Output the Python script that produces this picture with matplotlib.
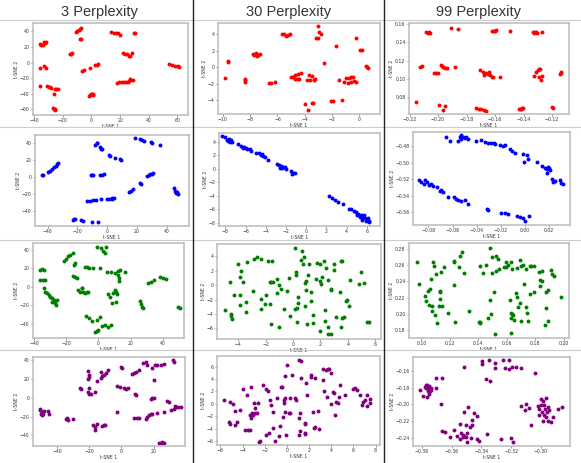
import numpy as np
import matplotlib
matplotlib.use("Agg")
import matplotlib.pyplot as plt
from matplotlib.ticker import MultipleLocator, FuncFormatter

col_titles = ["3 Perplexity", "30 Perplexity", "99 Perplexity"]
row_colors = ["red", "blue", "green", "purple"]

# ---- row 1 (red) ----
red_p3 = [(-10.5, 39), (-9.8, 40.5), (-9.0, 42), (-8.3, 43.5), (-7.6, 45),
          (-8, 30), (-7.4, 30.3), (-15, 11.5), (-14, 11), (-13.4, 11.8),
          (-36, 24), (-35, 23), (-34, 22.5), (-33, 26), (-32, 27), (-32.4, 25.5),
          (-35.8, -7), (-33, -4.7), (-32, -6.5), (-36.3, -30.3),
          (-31, -30), (-30, -31), (-29, -32), (-28, -33),
          (-25.8, -34), (-24.5, -34), (-23.2, -34), (-26.5, -40.6),
          (-27, -59), (-26.3, -60), (-25.3, -61), (-25.5, -59.5),
          (-6.3, -11), (-5.2, -10), (-1.2, -6.4), (2.8, -3.4), (3.6, -2.8), (4.4, -2.1),
          (-2, -43), (-1.2, -41.5), (-0.3, -41), (0.6, -40.2), (1.4, -40.5), (1.3, -41.5),
          (13.7, 39), (15.8, 38.5), (17.4, 38.2), (18.8, 38), (19.8, 35.5),
          (29.5, 37.6), (30.1, 38),
          (21.9, 12.8), (23.5, 11.5), (25, 10.5), (26.5, 9), (27.2, 8.5), (28.1, 12.8),
          (17.7, -26), (19.5, -25.5), (21, -25), (22.5, -24.8), (24, -24.5), (25.5, -24.5),
          (27, -23), (28.8, -22), (27, -21.8), (26, -24),
          (54.4, -2), (56.5, -3), (58.5, -4), (60.3, -4.8), (61.4, -5.6)]

red_p30 = [(-3.04, 4.98), (-2.99, 4.3), (-2.8, 4.0), (-3.2, 3.6), (-3.05, 3.55),
           (-5.7, 4.0), (-5.5, 4.1), (-5.4, 3.85), (-5.25, 3.9), (-5.1, 4.05),
           (-1.72, 2.57), (-0.29, 3.55), (0.05, 2.1), (0.15, 2.08),
           (0.45, 0.15), (0.53, 0.0), (0.6, -0.1), (-2.59, 0.57),
           (-7.8, 1.6), (-7.6, 1.7), (-7.45, 1.5), (-7.3, 1.65), (-7.5, 1.4), (-7.7, 1.45),
           (-9.63, 0.65), (-9.6, 0.75), (-9.84, -1.27),
           (-8.4, -1.55), (-8.35, -1.75), (-8.38, -1.4),
           (-6.63, -1.96), (-6.5, -1.93), (-6.16, -1.84),
           (-4.9, -1.14), (-4.7, -0.95), (-4.5, -0.8), (-4.31, -0.65), (-4.72, -1.39),
           (-4.55, -1.4), (-4.43, -1.43), (-5.0, -1.2),
           (-3.7, -1.0), (-3.5, -1.1), (-3.28, -1.39), (-3.83, -1.55), (-3.6, -1.55), (-3.35, -1.55),
           (-1.49, -1.55), (-1.13, -1.8),
           (-0.96, -1.35), (-0.8, -1.3), (-0.6, -1.25), (-0.48, -1.22), (-0.84, -1.88),
           (-0.6, -1.85), (-0.4, -1.7), (-0.22, -1.76),
           (-3.98, -4.53), (-3.5, -4.4), (-3.4, -4.4), (-3.76, -5.27),
           (-2.08, -4.08), (-1.92, -4.08), (-1.27, -4.0)]

red_p99 = [(-0.2082, 0.1515), (-0.2070, 0.1508), (-0.2058, 0.1504), (-0.2062, 0.1512),
           (-0.1906, 0.1563), (-0.1860, 0.1552),
           (-0.1619, 0.1526), (-0.1605, 0.1530), (-0.1590, 0.1533), (-0.1600, 0.1524),
           (-0.1497, 0.1522),
           (-0.1333, 0.1515), (-0.1320, 0.1510), (-0.1310, 0.1520), (-0.1305, 0.1504), (-0.1325, 0.1505),
           (-0.1270, 0.1511),
           (-0.2124, 0.1132), (-0.2110, 0.1139),
           (-0.2030, 0.1062), (-0.2015, 0.1060), (-0.2000, 0.1062),
           (-0.1981, 0.1150), (-0.1975, 0.1140), (-0.1965, 0.1132), (-0.1953, 0.1124), (-0.1934, 0.1124),
           (-0.1883, 0.1132),
           (-0.1708, 0.1095), (-0.1685, 0.1077), (-0.1667, 0.1066), (-0.1650, 0.1051), (-0.1640, 0.1077),
           (-0.1636, 0.1040), (-0.1680, 0.1040), (-0.1620, 0.1022), (-0.1615, 0.1015),
           (-0.1567, 0.1015),
           (-0.1310, 0.1077), (-0.1300, 0.1095), (-0.1290, 0.1105), (-0.1282, 0.1110), (-0.1329, 0.1029),
           (-0.1291, 0.1015), (-0.1275, 0.0985), (-0.1268, 0.1029),
           (-0.1146, 0.1058), (-0.1140, 0.1065), (-0.1135, 0.1077),
           (-0.2152, 0.0748), (-0.1993, 0.0715), (-0.1965, 0.0657), (-0.1949, 0.0700),
           (-0.1736, 0.0675), (-0.1715, 0.0672), (-0.1700, 0.0668), (-0.1680, 0.0655), (-0.1665, 0.0650),
           (-0.1432, 0.0664), (-0.1420, 0.0672), (-0.1410, 0.0680), (-0.1404, 0.0682), (-0.1415, 0.0668),
           (-0.1198, 0.0686), (-0.1192, 0.0680)]

# ---- row 2 (blue) ----
blue_p3 = [(-43.5, 2.3), (-42.8, 2.6), (-40, 6), (-38.5, 8), (-37, 9.5), (-35.5, 12),
           (-34.5, 14), (-33.5, 15.5), (-33, 16.5),
           (-8, 38.5), (-7, 40), (-6.6, 40.4), (-4.8, 35.5), (-3.8, 34), (-3.3, 33),
           (1.1, 26.9), (2.2, 25), (5.5, 23), (8.8, 21.2), (9.5, 20.8),
           (18.7, 46.5), (22, 45.4), (23.5, 44.5), (24.6, 43.5), (29.7, 41.5), (30, 40.8), (35.2, 38.5),
           (-11, 3.1), (-10.2, 2.6), (-9.5, 2.3), (-5, 2.7), (-3.6, 3.1), (-2.2, 3.5),
           (-13.2, -27.7), (-11.5, -27.5), (-9.5, -27.2), (-7.7, -26.9), (-4.4, -25.8),
           (0, -25), (1.5, -25), (3, -24.5), (4.4, -23.8), (3.5, -26),
           (14.7, -16.9), (16, -15.5), (17.6, -13.1), (22, -6.5), (22.5, -7.2),
           (27, 1.9), (28, 2.5), (29, 3.5), (30, 4.2), (30.8, 5),
           (44.6, -12.3), (45.4, -15.5), (46, -17), (46.2, -18.1), (47.3, -20), (46.8, -17.5),
           (-23.1, -50), (-22, -49.5), (-21.3, -48.8), (-16.5, -51.2), (-17.5, -50.5),
           (-9.9, -52.7), (-5.9, -52.7)]

blue_p30 = [(-8.3, 4.85), (-8.0, 4.65), (-7.8, 4.3), (-7.6, 4.4), (-7.4, 4.2), (-7.7, 4.05),
            (-7.3, 3.95), (-7.5, 3.9),
            (-6.7, 3.6), (-6.5, 3.3), (-6.2, 3.25), (-6.0, 3.1), (-5.9, 2.85), (-5.6, 2.9),
            (-5.5, 2.6), (-6.3, 3.0),
            (-5.0, 2.35), (-4.7, 2.3), (-4.5, 1.95), (-4.3, 1.9), (-4.1, 1.7), (-4.4, 2.2), (-3.8, 1.35),
            (-2.9, 0.75), (-2.7, 0.5), (-2.5, 0.45), (-2.3, 0.2), (-2.4, 0.05), (-2.1, 0.3),
            (-2.0, 0.0), (-2.6, 0.15),
            (-1.5, -0.35), (-1.3, -0.6), (-1.15, -0.7), (-1.4, -0.75),
            (2.3, -4.05), (2.6, -4.3), (2.9, -4.6), (3.2, -4.85), (3.6, -5.25), (4.2, -5.9),
            (4.4, -6.0), (4.7, -6.3), (4.9, -6.45), (5.1, -6.7), (5.4, -6.9), (5.6, -7.2),
            (5.8, -7.3), (6.0, -7.55), (6.2, -7.75), (5.3, -7.05), (5.7, -6.9), (6.1, -7.3),
            (5.0, -6.9), (5.5, -7.5), (6.25, -7.85), (5.9, -7.7)]

blue_p99 = [(-0.0657, -0.4691), (-0.0623, -0.4731), (-0.0554, -0.4739), (-0.0540, -0.4687),
            (-0.0526, -0.4667), (-0.0512, -0.4687), (-0.0499, -0.4699), (-0.0485, -0.4687),
            (-0.0471, -0.4707), (-0.0530, -0.4710),
            (-0.0407, -0.4739), (-0.0360, -0.4727), (-0.0335, -0.4745), (-0.0310, -0.4755),
            (-0.0285, -0.4760), (-0.0260, -0.4758), (-0.0249, -0.4770),
            (-0.0208, -0.4780), (-0.0166, -0.4788), (-0.0185, -0.4795),
            (-0.0125, -0.4828), (-0.0105, -0.4853), (-0.0083, -0.4877),
            (-0.0014, -0.4897), (0.0014, -0.4901), (0.0028, -0.4950), (-0.0008, -0.4990),
            (0.0102, -0.4990), (0.0139, -0.5042), (0.0166, -0.5063), (0.0180, -0.5071),
            (0.0194, -0.5050), (0.0208, -0.5091), (0.0186, -0.5119), (0.0200, -0.5065),
            (0.0222, -0.5200), (0.0235, -0.5232), (0.0249, -0.5224), (0.0291, -0.5212),
            (0.0313, -0.5265), (0.0300, -0.5250),
            (-0.0878, -0.5208), (-0.0859, -0.5232), (-0.0839, -0.5253), (-0.0831, -0.5212),
            (-0.0812, -0.5232), (-0.0795, -0.5273), (-0.0776, -0.5265), (-0.0760, -0.5285),
            (-0.0730, -0.5293), (-0.0693, -0.5333), (-0.0680, -0.5362), (-0.0700, -0.5345),
            (-0.0637, -0.5418), (-0.0590, -0.5414), (-0.0573, -0.5442), (-0.0554, -0.5459),
            (-0.0526, -0.5467), (-0.0499, -0.5459), (-0.0471, -0.5499),
            (-0.0313, -0.5568), (-0.0305, -0.5570),
            (-0.0202, -0.5616), (-0.0169, -0.5616), (-0.0139, -0.5628),
            (-0.0064, -0.5649), (-0.0042, -0.5657), (-0.0019, -0.5677), (0.0000, -0.5709),
            (0.0036, -0.5644)]

# ---- row 3 (green) ----
green_p3 = [(-36.1, 18.2), (-34, 18.5), (-35, 18.9), (-36.1, 7.3), (-33.4, 6.9), (-34.6, 7.3),
            (-34, -1.8), (-33, -5.5), (-32, -7.3), (-30.9, -9.1), (-29.9, -10.9), (-28.9, -12.7),
            (-27.8, -14.5), (-28.5, -16.4), (-26.8, -18.2), (-26.2, -20), (-25.8, -14.5),
            (-21.6, 28), (-20.2, 30.2), (-18.6, 32.7), (-17.5, 34.5), (-15.5, 36.4),
            (-14.4, 25.5), (-15.1, 23.6), (-15.5, 11.6), (-14.4, 10.2), (-13.4, 9.1),
            (-12.4, -3.6), (-10.3, -1.1), (-9.3, -5.5), (-8.2, -7.3), (-7.2, -6.2), (-6.2, -6.2),
            (-11.3, -6.2), (-9.9, -1.8),
            (-8.2, 21.8), (-6.8, 21.1), (-5.6, 20.7), (-3.1, 20), (1, 20),
            (-1, 42.9), (1.6, 41.8), (3.1, 38.9), (4.7, 42.5), (4.1, 36.4),
            (5.6, 16.4), (7.8, 15.6), (10.3, 14.5), (12.4, 17.1), (13.4, 18.2), (16.5, 15.6),
            (12.4, 12.7), (13, 9.1), (12.6, 6.2),
            (10.3, -3.6), (10.9, -6.2), (11.8, -8.4), (6.2, -8.4), (7.2, -10.9), (9.3, -7.3),
            (8.2, -18.2), (10.9, -17.1),
            (25.8, -15.6), (26.6, -19.3), (27.4, -21.8), (27.8, -23.6),
            (30.9, 3.6), (33, 5.5), (34.6, 7.3), (38.1, 10.9), (40.2, 9.8), (42.3, 8.4),
            (49.5, -21.8), (50.9, -22.9),
            (-7.6, -31.6), (-6, -33.8), (-4.1, -37.5), (-1, -35.6), (1, -33.1),
            (-2.1, -49.1), (-1, -48), (0, -47.3), (2.1, -42.5), (4.1, -41.8), (6.2, -43.6), (7.8, -41.8)]

green_p30 = [(0.14, 5.16), (0.62, 4.70), (0.79, 3.95), (0.58, 3.49), (0.74, 2.93), (1.20, 2.98),
             (1.73, 3.07), (1.94, 2.88), (2.23, 3.30), (2.42, 2.37), (3.02, 2.88), (2.97, 2.14),
             (3.50, 3.35), (3.58, 3.35), (4.99, 1.81), (5.18, 0.33), (4.82, 0.14), (4.15, 0.74),
             (2.54, 0.65), (2.11, 1.07), (1.94, 0.60), (1.68, 0.84), (1.06, 1.44), (0.94, 0.60),
             (0.86, 0.28), (0.19, 1.77), (0.19, 1.44), (-0.29, 0.98), (-1.20, 0.84), (-1.44, 0.42),
             (-1.58, 0.47), (-1.68, 0.47), (-1.06, 0.00), (-0.86, -0.47), (-1.20, -1.07),
             (-0.46, -0.84), (0.34, -1.67), (0.34, -2.42), (0.94, -0.74), (1.34, -0.93),
             (2.06, 0.14), (1.29, -2.19), (0.14, -3.30), (0.29, -3.12), (0.86, -2.84),
             (-0.19, -4.23), (-0.67, -3.30), (1.49, -4.19), (2.37, -3.40), (2.37, -4.93),
             (3.12, -4.47), (3.55, -4.56), (3.69, -4.47), (3.45, -0.93), (3.98, -2.09),
             (3.88, -2.14), (4.08, -2.93), (2.81, -0.56), (2.78, -0.74), (3.48, -5.81),
             (2.52, -5.86), (1.94, -6.33), (1.01, -5.35), (1.46, -5.26), (0.29, -5.07),
             (-1.01, -5.86), (-1.58, -5.40), (-2.33, -3.26), (-2.06, -2.60), (-1.97, -1.35),
             (-2.37, -1.91), (-1.68, -2.56), (-2.93, -0.84), (-3.45, -2.37), (-3.45, -3.67),
             (-3.91, -2.79), (-3.91, -1.35), (-4.32, -1.44), (-4.58, 0.37), (-3.69, 0.47),
             (-3.88, 1.12), (-3.84, 1.95), (-4.00, 2.88), (-3.36, 3.16), (-2.85, 3.58),
             (-2.64, 3.91), (-2.33, 3.58), (-1.80, 3.30), (-1.53, 3.35), (-4.99, -3.44),
             (-4.56, -4.05), (-4.56, -4.23), (-4.46, -4.74), (2.59, -6.74), (2.78, -6.74),
             (5.42, -5.16), (5.52, -5.16)]

green_p99 = [(0.097, 0.264), (0.098, 0.237), (0.108, 0.264), (0.109, 0.259), (0.1105, 0.249),
             (0.114, 0.252), (0.1157, 0.258), (0.107, 0.243), (0.106, 0.231), (0.1047, 0.2287),
             (0.1028, 0.2225), (0.1035, 0.2156), (0.1054, 0.2115), (0.1075, 0.2102),
             (0.1077, 0.2041), (0.1096, 0.1992), (0.1129, 0.2287), (0.1129, 0.227),
             (0.1129, 0.2184), (0.1124, 0.2094), (0.1145, 0.2102), (0.111, 0.1889),
             (0.1187, 0.2012), (0.1227, 0.2635), (0.1232, 0.2656), (0.1262, 0.2578),
             (0.1274, 0.2709), (0.1286, 0.2762), (0.1297, 0.2504), (0.1232, 0.2352),
             (0.1239, 0.1902), (0.1333, 0.2037), (0.1405, 0.1898), (0.141, 0.1889),
             (0.1415, 0.1906), (0.1466, 0.1951), (0.149, 0.20), (0.148, 0.2172),
             (0.1508, 0.227), (0.1515, 0.1754), (0.141, 0.2586), (0.1433, 0.2504),
             (0.1457, 0.2598), (0.1494, 0.2504), (0.148, 0.2811), (0.1494, 0.2697),
             (0.1527, 0.2709), (0.1539, 0.2676), (0.1522, 0.2533), (0.1546, 0.2553),
             (0.1581, 0.2578), (0.1597, 0.2578), (0.1597, 0.2635), (0.1609, 0.2607),
             (0.1628, 0.2639), (0.1639, 0.2557), (0.1674, 0.2566), (0.1691, 0.2668),
             (0.1703, 0.2586), (0.1714, 0.2607), (0.1738, 0.2549), (0.1761, 0.2586),
             (0.1773, 0.2594), (0.1789, 0.2594), (0.1827, 0.2516), (0.1845, 0.2533),
             (0.1831, 0.2418), (0.185, 0.2402), (0.1831, 0.234), (0.1719, 0.2373),
             (0.1667, 0.2258), (0.1672, 0.2205), (0.1625, 0.2168), (0.1696, 0.2135),
             (0.1679, 0.2082), (0.1738, 0.2082), (0.1742, 0.2016), (0.1632, 0.2012),
             (0.1639, 0.2004), (0.1644, 0.1992), (0.1632, 0.1951), (0.1651, 0.193),
             (0.1703, 0.191), (0.1749, 0.191), (0.1628, 0.1766), (0.1761, 0.2246),
             (0.1789, 0.227), (0.1874, 0.227), (0.189, 0.2291), (0.1878, 0.2074),
             (0.1909, 0.2537), (0.192, 0.2492), (0.1932, 0.2463), (0.1984, 0.2209),
             (0.1867, 0.1869), (0.189, 0.1918)]

# ---- row 4 (purple) ----
purple_p3 = [(-50.8, -13.2), (-50.2, -16.7), (-49.3, -14.9), (-48.3, -13.9), (-49.7, -18.5),
             (-45.6, -13.5), (-45.1, -17.4), (-48.7, -16.7), (-50.4, -11.4),
             (-34.7, -22), (-33, -23.8), (-30.3, -22.4), (-34.1, -21.3),
             (-25.7, 11), (-25.1, 9.2),
             (-21.1, 28.4), (-20.3, 24.2), (-21.1, 20.6), (-19.9, 22.4),
             (-19.9, 10.7), (-20.5, 6.4), (-19, 4.6), (-19.9, 4.6), (-16.3, 6.4),
             (-15.3, 17.8), (-12.7, 21.3), (-11.1, 24.2), (-9.4, 26.7), (-8.6, 29.5),
             (-12.7, 27.8), (-12.1, 23.5),
             (-2.7, 12.8), (-1.0, 11.4), (-0.2, 33.1), (0.4, 32.5),
             (1.5, 10.7), (3.1, 10.0), (4.2, 10.7),
             (6.7, 26), (8.8, 27.7), (10.9, 29.5), (7.7, 26.5),
             (8.2, 4.6), (9.0, 3.6), (-2.7, -14.9),
             (-17.8, -29.2), (-16.3, -30.9), (-15.3, -27.4), (-16.7, -33.8), (-12.1, -29.9),
             (-11.1, -29.2), (-10, -28.4),
             (7.7, -21.3), (9.8, -21.3), (10.9, -21.3),
             (13.6, 37.3), (15, 38.4), (16.1, 34.8), (19.2, 32.4), (20.7, 35.6), (22.4, 35.6),
             (24.5, 35.6), (26.5, 35.9), (20.3, 19.6), (31.8, 40.2), (32.8, 38.4),
             (16.1, -20.3), (17.1, -18.5), (18.2, -17.4), (19.2, -16.7), (15.5, -22.8),
             (22.4, -15.6), (26.5, -14.9), (18.2, -0.7), (19.2, 0), (20.3, 0),
             (28.6, -3.2), (29.7, -4.3),
             (31.1, -13.2), (32.4, -11.4), (33.9, -9.6), (34.9, -10), (37, -9.6), (33.4, -8.5),
             (25.5, -46.9), (26.5, -47.6), (24.5, -48), (23.4, -47.6)]

purple_p30 = [(-5.64, 0.54), (-5.1, 0.32), (-4.89, -0.05), (-4.65, -1.18), (-4.2, -1.07),
              (-5.25, -2.95), (-5.16, -3.22), (-4.65, -3.43), (-4.5, -2.9), (-3.96, 2.36),
              (-3.6, 1.5), (-3.21, 2.73), (-3.75, -4.29), (-3.54, -4.29), (-3.36, -4.24),
              (-3.36, -1.82), (-3.18, -1.55), (-3.06, -1.88), (-2.91, -1.45), (-3.24, -2.31),
              (-2.85, -0.75), (-2.94, 0.16), (-2.61, 0.11), (-2.7, -1.45), (-2.16, 3.11),
              (-1.86, 2.47), (-1.71, 2.04), (-1.56, 0.59), (-1.44, -0.21), (-1.26, -1.29),
              (-1.29, -3.97), (-1.59, -4.72), (-1.86, -5.04), (-2.49, -6.11), (-2.4, -5.95),
              (-1.05, -6.0), (-0.75, -5.2), (-0.66, -3.59), (-0.9, 0.97), (-0.54, 2.68),
              (-0.42, 2.73), (-0.21, 0.86), (-0.24, 0.59), (-0.15, 4.56), (0.0, 6.33),
              (0.45, 4.72), (0.3, 0.86), (-0.24, 0.16), (-0.15, -1.29), (0.15, -1.45),
              (0.3, -1.55), (-0.36, -2.2), (-0.06, -5.09), (0.69, 0.86), (0.81, 0.59),
              (1.05, -5.04), (1.2, -4.4), (1.14, -2.36), (1.2, -1.55), (1.26, 4.24),
              (1.14, 7.02), (1.29, 6.92), (1.74, 3.43), (1.65, -3.06), (1.68, -3.32),
              (1.68, -4.77), (1.65, -4.93), (1.86, 1.39), (2.19, 4.61), (2.19, 4.29),
              (2.34, -1.29), (2.49, -3.86), (2.58, -3.7), (2.58, 4.24), (2.82, -1.18),
              (2.88, -4.13), (3.24, 3.81), (3.3, 5.68), (3.54, 5.52), (3.69, 5.68),
              (3.78, 5.68), (3.36, 2.09), (3.6, 1.13), (3.96, 4.99), (3.96, -0.05),
              (4.14, 1.93), (4.26, 1.77), (4.44, 0.32), (4.59, 0.11), (4.38, -1.82),
              (4.74, 1.13), (4.8, 3.0), (5.25, 1.5), (5.94, 2.47), (6.15, 2.63),
              (6.36, 2.31), (6.6, 1.39), (6.75, -0.27), (6.9, 0.32), (7.05, 0.59),
              (7.2, 1.39), (7.26, -0.38), (7.5, 0.7), (7.5, 0.21)]

purple_p99 = [(-0.3816, -0.1824), (-0.3793, -0.19), (-0.3775, -0.1772), (-0.3764, -0.1764),
              (-0.3753, -0.178), (-0.3771, -0.1804), (-0.3755, -0.1812), (-0.3742, -0.1804),
              (-0.3782, -0.1792), (-0.376, -0.1844), (-0.3744, -0.184), (-0.3764, -0.1912),
              (-0.3755, -0.188), (-0.3737, -0.1832), (-0.3708, -0.1804),
              (-0.3704, -0.1684), (-0.3666, -0.1684), (-0.367, -0.1992),
              (-0.3518, -0.1548), (-0.3398, -0.1484), (-0.3398, -0.1512), (-0.3351, -0.1472),
              (-0.3306, -0.15), (-0.3306, -0.1564), (-0.3257, -0.1472), (-0.3217, -0.1472),
              (-0.3244, -0.156), (-0.3212, -0.158), (-0.3197, -0.1552), (-0.3168, -0.1556),
              (-0.3134, -0.156), (-0.3369, -0.1692), (-0.3342, -0.1724), (-0.3038, -0.162),
              (-0.3514, -0.2092), (-0.3492, -0.2032), (-0.3447, -0.21), (-0.3431, -0.214),
              (-0.3463, -0.2192), (-0.3463, -0.2252), (-0.348, -0.2272), (-0.3503, -0.2252),
              (-0.3547, -0.224), (-0.3536, -0.234), (-0.3525, -0.2392), (-0.3525, -0.2372),
              (-0.3585, -0.2304), (-0.361, -0.2392), (-0.3565, -0.238), (-0.3498, -0.2344),
              (-0.3514, -0.238), (-0.3507, -0.2392), (-0.3543, -0.242), (-0.3498, -0.2452),
              (-0.3469, -0.2404), (-0.3429, -0.2412), (-0.3418, -0.2444), (-0.3364, -0.236),
              (-0.3664, -0.2324), (-0.3648, -0.2332), (-0.3268, -0.242), (-0.3201, -0.2404),
              (-0.319, -0.2452), (-0.3067, -0.2244),
              (-0.3134, -0.2024), (-0.3101, -0.1992), (-0.3105, -0.2072), (-0.3083, -0.2044),
              (-0.3022, -0.2024), (-0.3011, -0.2052), (-0.3016, -0.2124), (-0.3, -0.194),
              (-0.2989, -0.1964), (-0.2978, -0.2012), (-0.2966, -0.1924), (-0.2971, -0.206),
              (-0.296, -0.2092), (-0.2951, -0.2032), (-0.2944, -0.2072), (-0.2993, -0.2092),
              (-0.2982, -0.2132), (-0.2966, -0.2152), (-0.2955, -0.2204), (-0.2984, -0.2204),
              (-0.2933, -0.2212), (-0.2922, -0.2152), (-0.3, -0.2012),
              (-0.2888, -0.2052), (-0.2859, -0.2032)]

panel_data = [[red_p3, red_p30, red_p99],
              [blue_p3, blue_p30, blue_p99],
              [green_p3, green_p30, green_p99],
              [purple_p3, purple_p30, purple_p99]]

# axis ranges per panel
x_ranges = [[(-40.9, 67.5), (-10.35, 1.5), (-0.2204, -0.1081)],
            [(-48.4, 54.9), (-8.63, 7.31), (-0.0928, 0.0374)],
            [(-40.6, 53.2), (-5.56, 6.43), (0.0913, 0.2037)],
            [(-55.0, 39.5), (-6.3, 8.4), (-0.386, -0.2805)]]
y_ranges = [[(-67.5, 50.9), (-5.71, 5.39), (0.0613, 0.1614)],
            [(-57.3, 50.0), (-8.45, 5.26), (-0.5758, -0.4626)],
            [(-55.6, 47.3), (-7.49, 5.72), (0.1705, 0.2873)],
            [(-51.2, 43.7), (-6.65, 7.72), (-0.25, -0.1432)]]
tick_steps = [20, 2, 0.02]

W, H = 581, 463
# axes boxes in pixels: (left, right, top, bottom)
boxes = [[(33, 188, 23, 115), (218, 380, 23, 114), (409, 569, 23, 114)],
         [(35, 189, 135, 226), (219, 380, 133, 226), (413, 570, 132, 225)],
         [(33, 184, 243, 338), (217, 381, 244, 339), (409, 569, 243, 338)],
         [(33, 185, 357, 446), (217, 380, 356, 445), (413, 570, 357, 446)]]


def tick_fmt(decimals):
    # format with a real minus sign like the default matplotlib ticks
    return FuncFormatter(lambda v, pos: f"{v:.{decimals}f}".replace("-", "\u2212"))


fig = plt.figure(figsize=(W / 100, H / 100), dpi=100)

for r in range(4):
    for c in range(3):
        left, right, top, bottom = boxes[r][c]
        ax = fig.add_axes([left / W, 1 - bottom / H, (right - left) / W, (bottom - top) / H])
        pts = np.array(panel_data[r][c])
        ax.scatter(pts[:, 0], pts[:, 1], s=8, c=row_colors[r], linewidths=0)
        ax.set_xlim(*x_ranges[r][c])
        ax.set_ylim(*y_ranges[r][c])
        step = tick_steps[c]
        ax.xaxis.set_major_locator(MultipleLocator(step))
        ax.yaxis.set_major_locator(MultipleLocator(step))
        dec = 2 if step < 1 else 0
        ax.xaxis.set_major_formatter(tick_fmt(dec))
        ax.yaxis.set_major_formatter(tick_fmt(dec))
        ax.tick_params(labelsize=3.3, length=1.5, width=0.4, pad=1, colors='#333333')
        ax.set_xlabel("t-SNE 1", fontsize=3.3, labelpad=0.5, color='#333333')
        ax.set_ylabel("t-SNE 2", fontsize=3.3, labelpad=0.5, color='#333333')
        for sp in ax.spines.values():
            sp.set_color('#bbbbbb')
            sp.set_linewidth(1.1)

# column titles
title_x = [99, 289, 478]
for c in range(3):
    fig.text(title_x[c] / W, 1 - 12 / H, col_titles[c], ha='center', va='center',
             fontsize=10.5, color='#333333', family='Liberation Sans')

# separators between the pasted panels
for y in [20, 127, 240, 350]:
    fig.add_artist(plt.Line2D([0, 1], [1 - y / H, 1 - y / H], color='#cccccc', lw=0.8))
for x in [193, 384]:
    fig.add_artist(plt.Line2D([x / W, x / W], [0, 1], color='#222222', lw=1.0))

fig.savefig("out.png", dpi=100)
